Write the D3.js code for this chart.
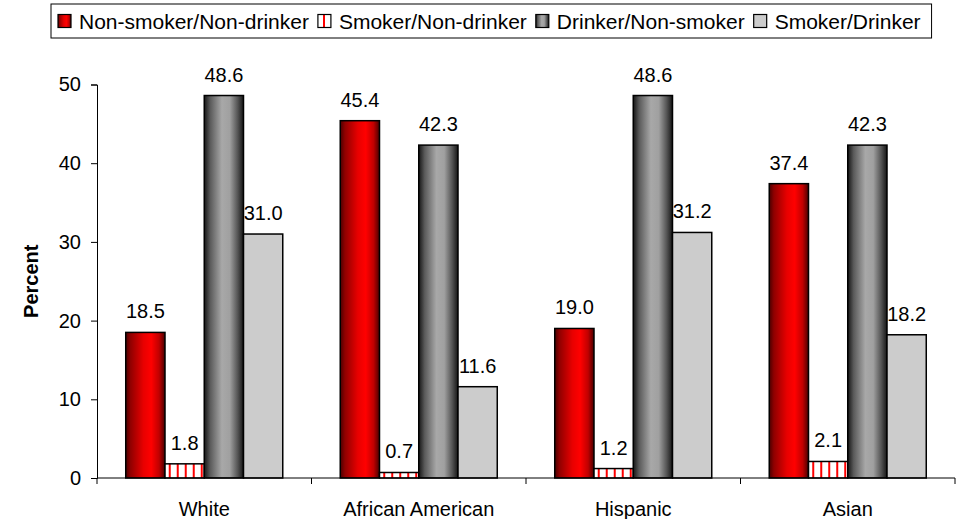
<!DOCTYPE html>
<html>
<head>
<meta charset="utf-8">
<script src="https://cdn.jsdelivr.net/npm/d3@7"></script>
<style>
  body { margin: 0; background: #fff; }
  svg { display: block; font-family: "Liberation Sans", Arial, sans-serif; }
</style>
</head>
<body>
<svg id="chart"></svg>
<script>
const categories = ["White", "African American", "Hispanic", "Asian"];
const seriesNames = ["Non-smoker/Non-drinker", "Smoker/Non-drinker", "Drinker/Non-smoker", "Smoker/Drinker"];
const nonSmokerNonDrinker = [18.5, 45.4, 19.0, 37.4];
const smokerNonDrinker = [1.8, 0.7, 1.2, 2.1];
const drinkerNonSmoker = [48.6, 42.3, 48.6, 42.3];
const smokerDrinker = [31.0, 11.6, 31.2, 18.2];
const yTicks = [0, 10, 20, 30, 40, 50];

const seriesValues = [nonSmokerNonDrinker, smokerNonDrinker, drinkerNonSmoker, smokerDrinker];
const fills = ["url(#redGrad)", "url(#hatch)", "url(#grayGrad)", "#cccccc"];

const width = 957, height = 519;
const margin = { top: 84.5, right: 2, bottom: 41, left: 97 };

const svg = d3.select("#chart").attr("width", width).attr("height", height);

// gradients and hatch pattern
const defs = svg.append("defs");
const redGrad = defs.append("linearGradient").attr("id", "redGrad")
    .attr("x1", "0%").attr("x2", "100%").attr("y1", "0%").attr("y2", "0%");
[["0%", "#4a0000"], ["12%", "#900000"], ["45%", "#e80000"], ["65%", "#ff0000"], ["85%", "#c00000"], ["100%", "#4a0000"]]
    .forEach(s => redGrad.append("stop").attr("offset", s[0]).attr("stop-color", s[1]));

const grayGrad = defs.append("linearGradient").attr("id", "grayGrad")
    .attr("x1", "0%").attr("x2", "100%").attr("y1", "0%").attr("y2", "0%");
[["0%", "#151515"], ["15%", "#5a5a5a"], ["45%", "#a8a8a8"], ["65%", "#a0a0a0"], ["85%", "#555555"], ["100%", "#151515"]]
    .forEach(s => grayGrad.append("stop").attr("offset", s[0]).attr("stop-color", s[1]));

const hatch = defs.append("pattern").attr("id", "hatch")
    .attr("patternUnits", "userSpaceOnUse").attr("width", 8).attr("height", 8)
    .attr("x", 0);
hatch.append("rect").attr("width", 8).attr("height", 8).attr("fill", "#fff");
hatch.append("rect").attr("x", 3).attr("width", 2).attr("height", 8).attr("fill", "#ff0000");

// scales
const x0 = d3.scaleBand()
    .domain(categories)
    .range([margin.left, width - margin.right])
    .paddingInner(0.268)
    .paddingOuter(0.134);

const x1 = d3.scaleBand()
    .domain(seriesNames)
    .range([0, x0.bandwidth()]);

const y = d3.scaleLinear()
    .domain([0, 50])
    .range([height - margin.bottom, margin.top]);

// bars
const groups = svg.append("g")
    .selectAll("g")
    .data(categories)
    .join("g")
    .attr("transform", d => `translate(${x0(d)},0)`);

groups.selectAll("rect")
    .data((c, ci) => seriesNames.map((s, si) => ({ s: s, si: si, v: seriesValues[si][ci] })))
    .join("rect")
    .attr("x", d => x1(d.s))
    .attr("y", d => y(d.v))
    .attr("width", x1.bandwidth())
    .attr("height", d => y(0) - y(d.v))
    .attr("fill", d => fills[d.si])
    .attr("stroke", "#000")
    .attr("stroke-width", 1.5);

// value labels
groups.selectAll("text")
    .data((c, ci) => seriesNames.map((s, si) => ({ s: s, v: seriesValues[si][ci] })))
    .join("text")
    .attr("x", d => x1(d.s) + x1.bandwidth() / 2)
    .attr("y", d => y(d.v) - 14)
    .attr("text-anchor", "middle")
    .attr("font-size", 20)
    .attr("fill", "#000")
    .text(d => d3.format(".1f")(d.v));

// y axis
const yAxis = svg.append("g")
    .attr("transform", `translate(${margin.left},0)`)
    .call(d3.axisLeft(y).tickValues(yTicks).tickSize(6).tickPadding(10));
yAxis.select(".domain").attr("stroke", "#000");
yAxis.selectAll(".tick line").attr("stroke", "#000");
yAxis.selectAll(".tick text").attr("font-size", 20).attr("fill", "#000")
    .attr("font-family", "Liberation Sans, Arial, sans-serif");

// x axis: line with ticks at the category boundaries
const xAxis = svg.append("g");
xAxis.append("line")
    .attr("x1", margin.left).attr("x2", width - margin.right)
    .attr("y1", y(0)).attr("y2", y(0))
    .attr("stroke", "#000");
const boundaries = categories.map(c => x0(c) - x0.step() * x0.paddingInner() / 2)
    .concat([width - margin.right]);
xAxis.selectAll("line.tick")
    .data(boundaries)
    .join("line")
    .attr("class", "tick")
    .attr("x1", d => d).attr("x2", d => d)
    .attr("y1", y(0)).attr("y2", y(0) + 6)
    .attr("stroke", "#000");
xAxis.selectAll("text")
    .data(categories)
    .join("text")
    .attr("x", d => x0(d) + x0.bandwidth() / 2)
    .attr("y", 516)
    .attr("text-anchor", "middle")
    .attr("font-size", 20)
    .attr("fill", "#000")
    .text(d => d);

// y axis title
svg.append("text")
    .attr("transform", `translate(38,${(y(0) + y(50)) / 2}) rotate(-90)`)
    .attr("text-anchor", "middle")
    .attr("font-size", 20)
    .attr("font-weight", "bold")
    .text("Percent");

// legend
const legend = svg.append("g");
const legendBox = legend.append("rect")
    .attr("x", 51).attr("y", 4)
    .attr("width", 888).attr("height", 34)
    .attr("fill", "#fff")
    .attr("stroke", "#000");

let lx = 58;
seriesNames.forEach((name, i) => {
    legend.append("rect")
        .attr("x", lx).attr("y", 14.5)
        .attr("width", 13).attr("height", 13)
        .attr("fill", fills[i])
        .attr("stroke", "#000")
        .attr("stroke-width", 1.2);
    const t = legend.append("text")
        .attr("x", lx + 21).attr("y", 28.5)
        .attr("font-size", 21)
        .attr("fill", "#000")
        .text(name);
    lx = lx + 21 + t.node().getComputedTextLength() + 9;
});
legendBox.attr("width", lx - 51 + 2);
</script>
</body>
</html>
